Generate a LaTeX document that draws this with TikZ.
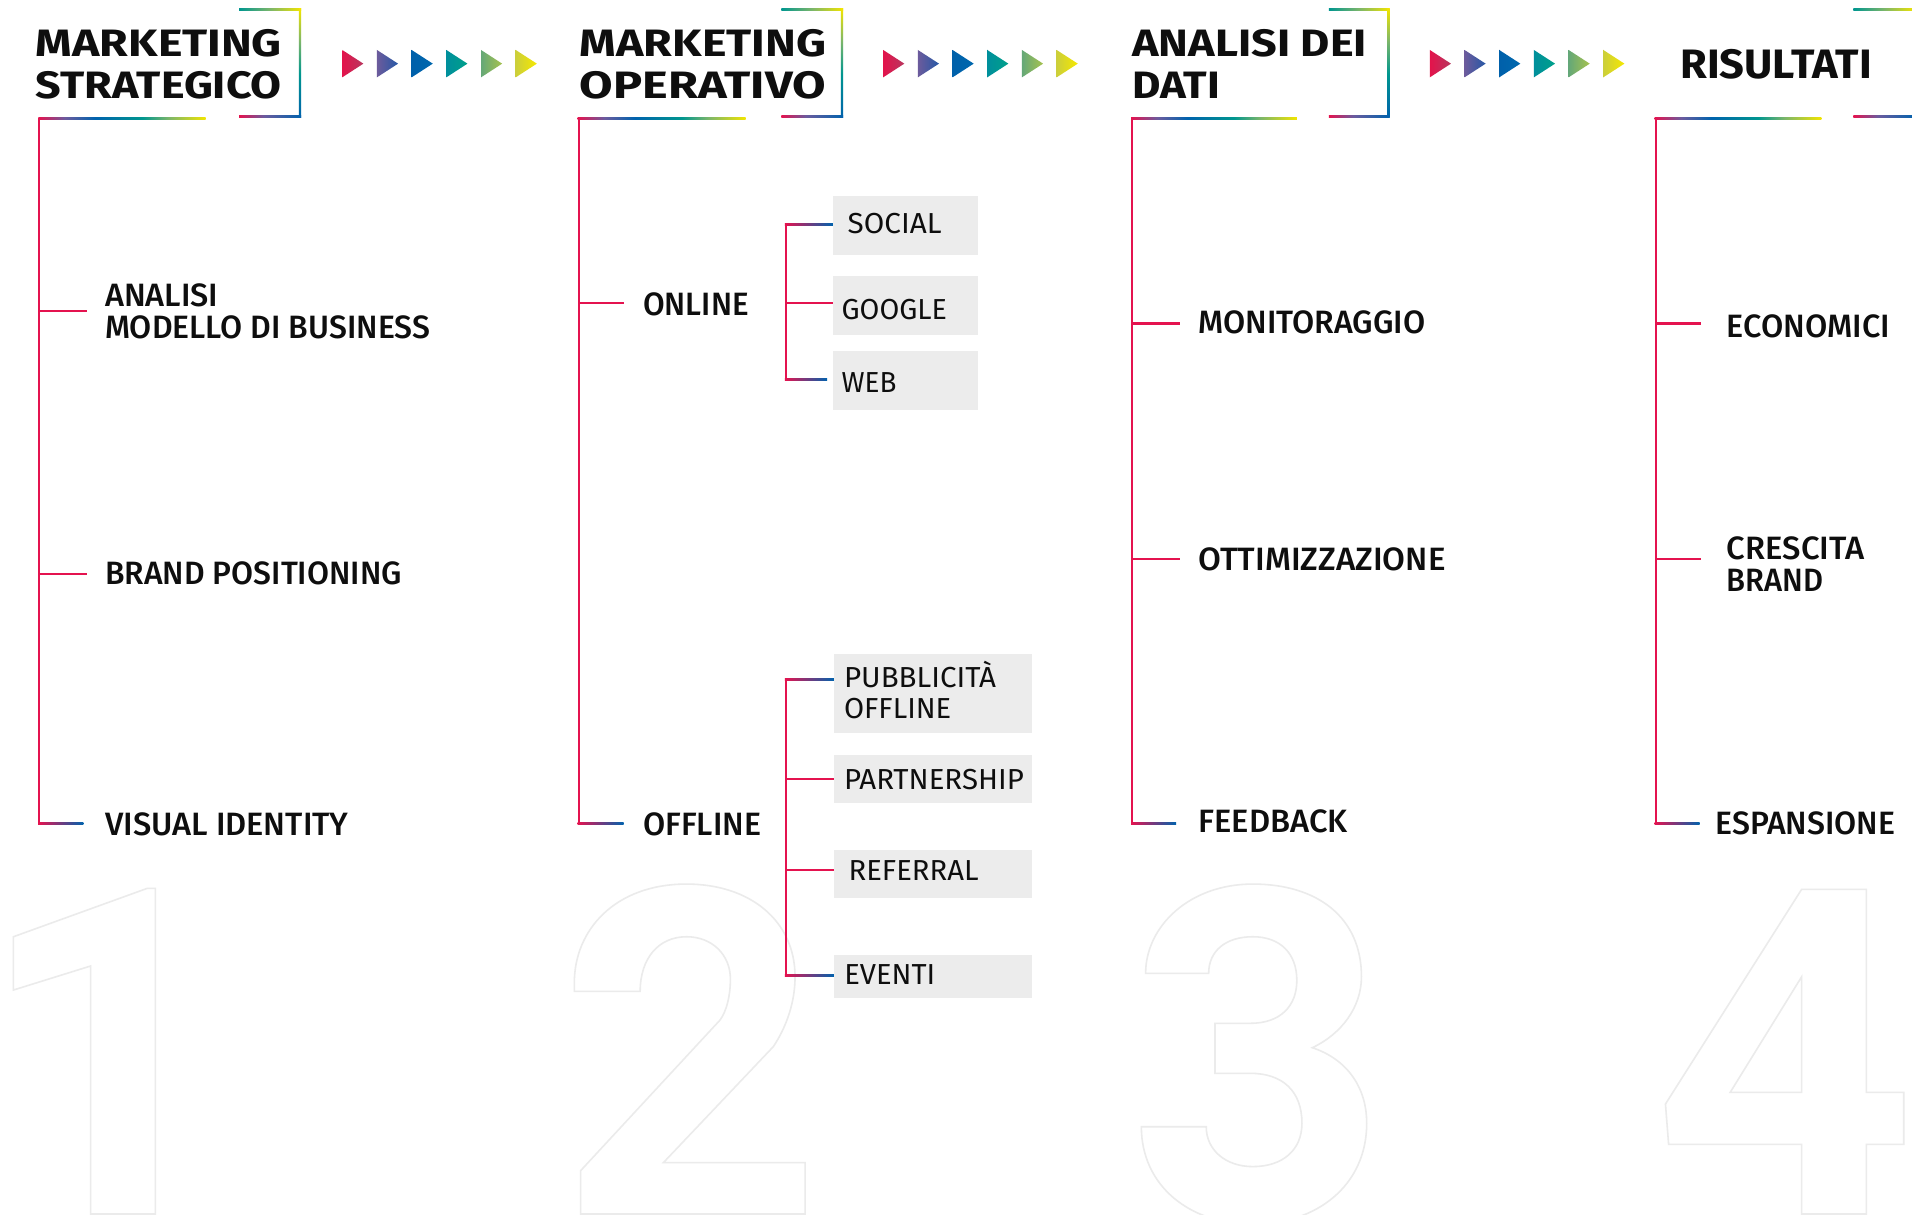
\documentclass[tikz,border=0pt]{standalone}
\usepackage{fontspec}
\setmainfont{Fira Sans}
\newfontfamily\labfont{Fira Sans Medium}
\usepackage{graphicx}
\usetikzlibrary{calc}

\definecolor{cred}{HTML}{E4134F}
\definecolor{cpurple}{HTML}{6B5B9E}
\definecolor{cblue}{HTML}{0062AD}
\definecolor{cteal}{HTML}{00968F}
\definecolor{cgreen}{HTML}{7CB66A}
\definecolor{cyellow}{HTML}{F2E500}
\definecolor{boxgray}{HTML}{ECECEC}
\definecolor{digitgray}{HTML}{EBEBEB}
\definecolor{ink}{HTML}{0E0E0E}
\definecolor{trA}{HTML}{E3134B}\definecolor{trB}{HTML}{B8375F}
\definecolor{trC}{HTML}{6C5B9C}\definecolor{trD}{HTML}{2658A6}
\definecolor{trE}{HTML}{0060AA}\definecolor{trF}{HTML}{0068AE}
\definecolor{trG}{HTML}{008F9C}\definecolor{trH}{HTML}{00A08A}
\definecolor{trI}{HTML}{65A878}\definecolor{trJ}{HTML}{A6C24E}
\definecolor{trK}{HTML}{CCCF3A}\definecolor{trL}{HTML}{F5E800}

\pgfdeclarehorizontalshading{rainbow}{100bp}{color(0bp)=(cred); color(25bp)=(cred); color(33bp)=(cpurple); color(42bp)=(cblue); color(56bp)=(cteal); color(64bp)=(cgreen); color(75bp)=(cyellow); color(100bp)=(cyellow)}
\pgfdeclarehorizontalshading{topseg}{100bp}{color(0bp)=(cteal); color(25bp)=(cteal); color(50bp)=(cgreen); color(75bp)=(cyellow); color(100bp)=(cyellow)}
\pgfdeclarehorizontalshading{botseg}{100bp}{color(0bp)=(cred); color(25bp)=(cred); color(45bp)=(cpurple); color(75bp)=(cblue); color(100bp)=(cblue)}
\pgfdeclareverticalshading{sideseg}{100bp}{color(0bp)=(cblue); color(25bp)=(cblue); color(45bp)=(cteal); color(60bp)=(cgreen); color(75bp)=(cyellow); color(100bp)=(cyellow)}

\newcommand\fw[2]{\resizebox{#1pt}{\height}{#2}}
\newcommand\twol[2]{\begin{tabular}[t]{@{}l@{}}#1\\#2\end{tabular}}
\newcommand\bracketat[2]{%
  \shade[shading=topseg] (#1,7) rectangle (#2+0.9,8.8);
  \shade[shading=sideseg] (#2-0.9,7) rectangle (#2+0.9,96.6);
  \shade[shading=botseg] (#1,94.8) rectangle (#2+0.9,96.6);
}

\tikzset{
  redline/.style={draw=cred, line width=1.7pt},
  gradline/.style={left color=cred, middle color=cpurple, right color=cblue},
  head/.style={inner sep=0pt, anchor=base west, text=ink, font=\bfseries\fontsize{31.3}{34.1}\selectfont},
  lab/.style={inner sep=0pt, anchor=base west, text=ink, font=\labfont\fontsize{26.5}{25.8}\selectfont},
  blab/.style={inner sep=0pt, anchor=base west, text=ink, font=\fontsize{23.7}{25.8}\selectfont},
  gbox/.style={fill=boxgray, inner sep=0pt, anchor=north west},
  digit/.style={draw=digitgray, line width=1.3pt, line join=miter},
}

\begin{document}
\begin{tikzpicture}[x=1pt,y=-1pt]
\useasboundingbox (0,0) rectangle (1568,996);
\clip (0,0) rectangle (1568,996);
\fill[white] (0,0) rectangle (1568,996);

% ---------- big outlined digits ----------
\draw[digit] (11,768.2) -- (120.8,728.5) -- (127.4,728.5) -- (127.4,995.6) -- (74.3,995.6) -- (74.3,792.2) -- (11,811.9) -- cycle;
\draw[digit] (476.2,995.6) -- (476.2,960) -- (590.5,836.5)
  .. controls (596,829) and (599,816) .. (599,803)
  .. controls (599,783) and (584,768.2) .. (563,768.2)
  .. controls (540,768.2) and (525,786) .. (525,813) -- (471,813) -- (471,806)
  .. controls (471,762) and (505,725) .. (563,725)
  .. controls (615,725) and (652,755) .. (652,801)
  .. controls (652,822) and (645,842) .. (634.2,858.3)
  -- (544,953.5) -- (660.2,953.5) -- (660.2,995.6) -- cycle;
\draw[digit] (1027.4,725) .. controls (975,725) and (939.5,760) .. (939.5,798.2) -- (991.2,798.2)
  .. controls (991.2,780) and (1005,768.2) .. (1027.4,768.2)
  .. controls (1050,768.2) and (1063.5,782) .. (1063.5,804)
  .. controls (1063.5,825) and (1050,839.2) .. (1025.3,839.2) -- (996.4,839.2) -- (996.4,880.2) -- (1025.3,880.2)
  .. controls (1052,880.2) and (1067.7,895) .. (1067.7,921.2)
  .. controls (1067.7,943) and (1052,956.7) .. (1027.4,956.7)
  .. controls (1005,956.7) and (989.2,943) .. (989.2,924) -- (936,924)
  .. controls (936,972) and (975,1004) .. (1027.4,1004)
  .. controls (1080,1004) and (1120.8,972) .. (1120.8,921.2)
  .. controls (1120.8,890) and (1103,868) .. (1076.2,859.2)
  .. controls (1100,848) and (1116.5,826) .. (1116.5,801)
  .. controls (1116.5,752) and (1080,725) .. (1027.4,725) -- cycle;
\draw[digit] (1477.5,729.3) -- (1530.6,729.3) -- (1530.6,895.8) -- (1561.2,895.8) -- (1561.2,938.5) -- (1530.6,938.5) -- (1530.6,995.6) -- (1477.5,995.6) -- (1477.5,938.5) -- (1368.4,938.5) -- (1365.8,905.4) -- cycle
  (1477.5,801) -- (1477.5,895.8) -- (1418.9,895.8) -- cycle;

% ---------- headings ----------
\node[head] (h1) at (29.3,46.5) {\twol{\fw{201.7}{MARKETING}}{\fw{201.7}{STRATEGICO}}};
\node[head] (h2) at (475.3,46.5) {\twol{\fw{202}{MARKETING}}{\fw{202}{OPERATIVO}}};
\node[head] (h3) at (928.4,46.5) {\twol{\fw{192.4}{ANALISI DEI}}{\fw{72.1}{DATI}}};
\node[head, font=\bfseries\fontsize{33.7}{34}\selectfont] (h4) at (1377.7,64.2) {\fw{157.2}{RISULTATI}};

\bracketat{196.2}{246}
\bracketat{640.8}{690.5}
\bracketat{1089.8}{1138.7}
\bracketat{1520}{1569.5}

% ---------- arrow triangles ----------
\foreach \g in {280.7,724.3,1172.6}{
  \foreach \k/\cl/\cr in {0/trA/trB,1/trC/trD,2/trE/trF,3/trG/trH,4/trI/trJ,5/trK/trL}{
    \pgfmathsetmacro\xx{\g+28.45*\k}
    \shade[left color=\cl, right color=\cr] (\xx,41) -- (\xx+17.3,52.2) -- (\xx,63.4) -- cycle;
  }
}

% ---------- labels ----------
\node[lab] (l11) at (86.1,251) {\twol{\fw{92.9}{ANALISI}}{\fw{266.5}{MODELLO DI BUSINESS}}};
\node[lab] (l12) at (86.1,479.5) {\fw{243.3}{BRAND POSITIONING}};
\node[lab] (l13) at (86.1,685.4) {\fw{199.6}{VISUAL IDENTITY}};
\node[lab] (l21) at (527.2,258.9) {\fw{86.7}{ONLINE}};
\node[lab] (l22) at (527.2,685.4) {\fw{96.8}{OFFLINE}};
\node[lab] (l31) at (982.8,273.6) {\fw{186}{MONITORAGGIO}};
\node[lab] (l32) at (982.8,467.6) {\fw{202.5}{OTTIMIZZAZIONE}};
\node[lab] (l33) at (982.8,682.3) {\fw{122.2}{FEEDBACK}};
\node[lab] (l41) at (1416,276.8) {\fw{133.7}{ECONOMICI}};
\node[lab] (l42) at (1416,458.8) {\twol{\fw{112.5}{CRESCITA}}{\fw{79.3}{BRAND}}};
\node[lab] (l43) at (1406.6,684.3) {\fw{147.4}{ESPANSIONE}};

% ---------- grey boxes ----------
\node[gbox, minimum width=119pt, minimum height=48.5pt] (bx1) at (683,160.7) {};
\node[gbox, minimum width=119pt, minimum height=48.5pt] (bx2) at (683,226.3) {};
\node[gbox, minimum width=119pt, minimum height=48.5pt] (bx3) at (683,287.9) {};
\node[gbox, minimum width=162.4pt, minimum height=64.5pt] (bx4) at (683.9,536.3) {};
\node[gbox, minimum width=162.4pt, minimum height=39.8pt] (bx5) at (683.9,618.6) {};
\node[gbox, minimum width=162.4pt, minimum height=39.4pt] (bx6) at (683.9,696.5) {};
\node[gbox, minimum width=162.4pt, minimum height=34.7pt] (bx7) at (683.9,783.2) {};
\node[blab] (s1) at (695,191.3) {\fw{77}{SOCIAL}};
\node[blab] (s2) at (690,262.1) {\fw{86.4}{GOOGLE}};
\node[blab] (s3) at (690,321.7) {\fw{45}{WEB}};
\node[blab] (s4) at (692,563.8) {\twol{\fw{124.6}{PUBBLICITÀ}}{\fw{87.9}{OFFLINE}}};
\node[blab] (s5) at (692,647.3) {\fw{147.4}{PARTNERSHIP}};
\node[blab] (s6) at (695.7,721.7) {\fw{106.6}{REFERRAL}};
\node[blab] (s7) at (692.2,807) {\fw{74.6}{EVENTI}};

% ---------- tree coordinates ----------
\coordinate (r1t) at (32.3,97.1);   \coordinate (r1b) at (32.3,675.5);
\coordinate (L1) at (168.7,97.1);
\coordinate (e11) at (71.1,255);    \coordinate (e12) at (71.1,470.4);  \coordinate (e13) at (68.3,675.5);
\coordinate (r2t) at (474.5,97.1);  \coordinate (r2b) at (474.5,675.5);
\coordinate (L2) at (611.5,97.1);
\coordinate (e21) at (512,248.2);   \coordinate (e22) at (511.4,675.5);
\coordinate (r3t) at (928.4,97.1);  \coordinate (r3b) at (928.4,675.5);
\coordinate (L3) at (1063.5,97.1);
\coordinate (e31) at (967.9,265.3); \coordinate (e32) at (967.9,458.1); \coordinate (e33) at (964.5,675.5);
\coordinate (r4t) at (1357.8,97.1); \coordinate (r4b) at (1357.8,675.5);
\coordinate (L4) at (1493.7,97.1);
\coordinate (e41) at (1394.7,265.3); \coordinate (e42) at (1394.7,458.1); \coordinate (e43) at (1393.9,675.5);
% sub-trees
\coordinate (u1) at (644.6,183.8); \coordinate (u2) at (644.6,248.2); \coordinate (u3) at (644.6,311.4);
\coordinate (v1) at (644.6,557);   \coordinate (v2) at (644.6,638.5); \coordinate (v3) at (644.6,713.5); \coordinate (v4) at (644.6,799.6);
\coordinate (g1) at (u1 -| bx1.west); \coordinate (g2) at (u2 -| bx2.west); \coordinate (g3) at (678.2,311.4);
\coordinate (k1) at (v1 -| bx4.west); \coordinate (k2) at (v2 -| bx5.west); \coordinate (k3) at (v3 -| bx6.west); \coordinate (k4) at (v4 -| bx7.west);

% ---------- tree connectors ----------
\foreach \c in {1,2,3,4}{
  \draw[redline] (r\c t) -- ($(r\c b)+(0,0.85)$);
  \shade[shading=rainbow] ($(r\c t)+(-0.85,-0.9)$) rectangle ($(L\c)+(0,0.9)$);
}
\draw[redline] (e11 -| r1t) -- (e11);
\draw[redline] (e12 -| r1t) -- (e12);
\shade[gradline] ($(r1b)+(-0.85,-0.85)$) rectangle ($(e13)+(0,0.85)$);
\draw[redline] (e21 -| r2t) -- (e21);
\shade[gradline] ($(r2b)+(-0.85,-0.85)$) rectangle ($(e22)+(0,0.85)$);
\draw[redline] (e31 -| r3t) -- (e31);
\draw[redline] (e32 -| r3t) -- (e32);
\shade[gradline] ($(r3b)+(-0.85,-0.85)$) rectangle ($(e33)+(0,0.85)$);
\draw[redline] (e41 -| r4t) -- (e41);
\draw[redline] (e42 -| r4t) -- (e42);
\shade[gradline] ($(r4b)+(-0.85,-0.85)$) rectangle ($(e43)+(0,0.85)$);

% online sub-tree
\draw[redline] ($(u1)+(0,-0.85)$) -- ($(u3)+(0,0.85)$);
\shade[gradline] ($(u1)+(-0.85,-0.85)$) rectangle ($(g1)+(0,0.85)$);
\draw[redline] (u2) -- (g2);
\shade[gradline] ($(u3)+(-0.85,-0.85)$) rectangle ($(g3)+(0,0.85)$);
% offline sub-tree
\draw[redline] ($(v1)+(0,-0.85)$) -- ($(v4)+(0,0.85)$);
\shade[gradline] ($(v1)+(-0.85,-0.85)$) rectangle ($(k1)+(0,0.85)$);
\draw[redline] (v2) -- (k2);
\draw[redline] (v3) -- (k3);
\shade[gradline] ($(v4)+(-0.85,-0.85)$) rectangle ($(k4)+(0,0.85)$);
\end{tikzpicture}
\end{document}
